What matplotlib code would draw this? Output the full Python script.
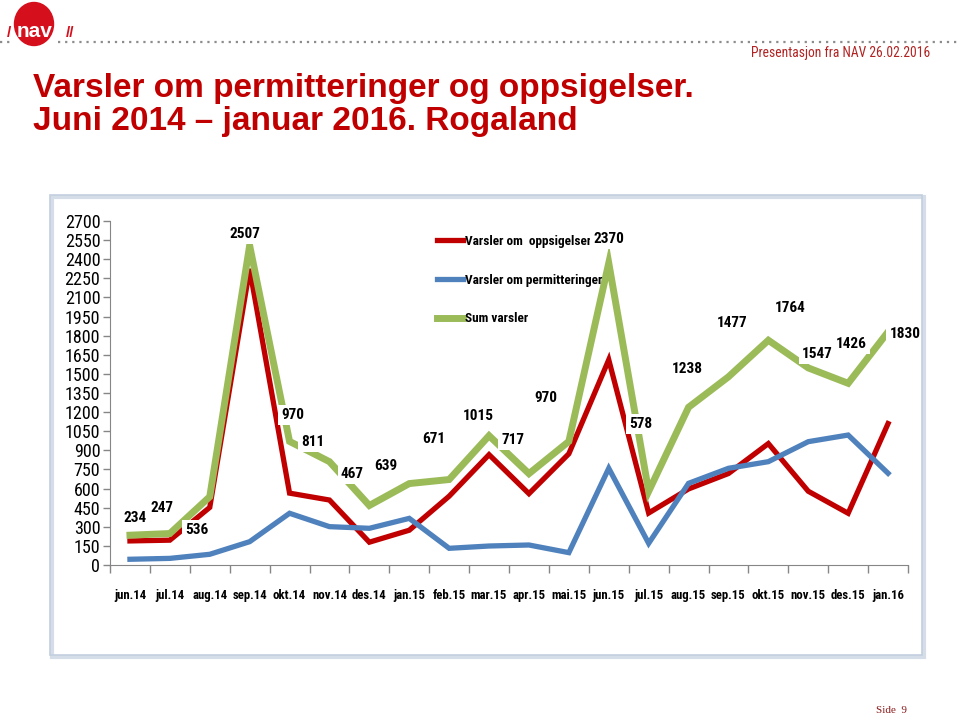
import numpy as np
import matplotlib
matplotlib.use("Agg")
import matplotlib.pyplot as plt
from matplotlib import font_manager
from matplotlib.font_manager import FontProperties
from matplotlib.patches import Ellipse, Rectangle
from matplotlib.lines import Line2D

# data
months = ["jun.14", "jul.14", "aug.14", "sep.14", "okt.14", "nov.14", "des.14",
          "jan.15", "feb.15", "mar.15", "apr.15", "mai.15", "jun.15", "jul.15",
          "aug.15", "sep.15", "okt.15", "nov.15", "des.15", "jan.16"]
oppsigelser = [189, 195, 452, 2324, 564, 510, 179, 273, 540, 866,
               560, 873, 1611, 408, 597, 718, 953, 579, 406, 1110]
permitteringer = [45, 52, 84, 183, 406, 301, 288, 366, 131, 149,
                  157, 97, 759, 170, 641, 759, 811, 968, 1020, 720]
sum_varsler = [234, 247, 536, 2507, 970, 811, 467, 639, 671, 1015,
               717, 970, 2370, 578, 1238, 1477, 1764, 1547, 1426, 1830]
yticks = list(range(0, 2701, 150))

# label offsets in pixels (dx, dy) relative to the green points
label_offsets = [(5, 17), (-8, 26), (-13, -33), (-5, 12), (3, 26), (-17, 20),
                 (-17, 32), (-23, 18), (-15, 41), (-11, 20), (-16, 34), (-23, 43),
                 (0, 24), (-8, 67), (-1, 38), (4, 54), (22, 32), (9, 14),
                 (3, 39), (17, -2)]

RED = "#C00000"
BLUE = "#4F81BD"
GREEN = "#9BBB59"
TITLE_RED = "#C00000"


# find a narrow font (Calibri-like chart text)
def find_narrow(bold):
    fonts = font_manager.fontManager.ttflist
    def ok_weight(f):
        w = f.weight if isinstance(f.weight, int) else 400
        return (w >= 600) if bold else (w < 600)
    for name in ["Liberation Sans Narrow", "Roboto Condensed", "Open Sans Condensed"]:
        for f in fonts:
            if f.name == name and ok_weight(f) and "italic" not in f.style:
                return f.fname, True
    for name in ["Noto Sans", "Open Sans", "DejaVu Sans", "Roboto"]:
        for f in fonts:
            if (f.name == name and "condensed" in str(f.stretch) and
                    ok_weight(f) and f.style == "normal"):
                return f.fname, True
    for f in fonts:
        if f.name == "Liberation Sans" and ok_weight(f) and f.style == "normal":
            return f.fname, False
    return None, False

reg_path, reg_narrow = find_narrow(False)
bold_path, bold_narrow = find_narrow(True)
k_reg = 1.0 if reg_narrow else 0.85
k_bold = 1.0 if bold_narrow else 0.85

def nfont(size, bold=False):
    path = bold_path if bold else reg_path
    k = k_bold if bold else k_reg
    if path is None:
        return FontProperties(family="DejaVu Sans", size=size * 0.8,
                              weight="bold" if bold else "normal")
    return FontProperties(fname=path, size=size * k)

W, H = 960, 717
fig = plt.figure(figsize=(W / 100, H / 100), dpi=100)

def fx(x):
    return x / W

def fy(y):
    return 1 - y / H

# header: logo, dotted line, date text
fig.add_artist(Line2D([fx(0), fx(12)], [fy(42), fy(42)], color="#8C8C8C",
                      lw=1.6, linestyle=(0, (1, 2.2))))
fig.add_artist(Line2D([fx(58), fx(960)], [fy(42), fy(42)], color="#8C8C8C",
                      lw=1.6, linestyle=(0, (1, 2.2))))
fig.add_artist(Ellipse((fx(34), fy(24)), 39 / W, 43 / H, color="#D50F1C"))
fig.text(fx(35), fy(37), "nav", color="white", fontsize=15, fontweight="bold",
         ha="center", va="baseline", family="Liberation Sans")
fig.text(fx(9), fy(37), "/", color="#D50F1C", fontsize=11, fontweight="bold",
         ha="center", va="baseline", family="Liberation Sans")
fig.text(fx(70), fy(37), "//", color="#D50F1C", fontsize=11, fontweight="bold",
         ha="center", va="baseline", family="Liberation Sans")
fig.text(fx(930), fy(57), "Presentasjon fra NAV 26.02.2016", color="#B22222",
         fontproperties=nfont(9.8), ha="right", va="baseline")

# title
fig.text(fx(33), fy(97), "Varsler om permitteringer og oppsigelser.", color=TITLE_RED,
         fontsize=24, fontweight="bold", ha="left", va="baseline",
         family="Liberation Sans")
fig.text(fx(33), fy(130), "Juni 2014 \u2013 januar 2016. Rogaland", color=TITLE_RED,
         fontsize=24, fontweight="bold", ha="left", va="baseline",
         family="Liberation Sans")

# footer
fig.text(fx(876), fy(713), "Side  9", color="#8B1A1A", fontsize=8,
         ha="left", va="baseline", family="Liberation Serif")

# chart frame
fig.add_artist(Rectangle((fx(52), fy(657)), 872 / W, 460 / H, fill=False,
                         edgecolor="#D5DDE8", lw=3))
fig.add_artist(Rectangle((fx(50), fy(655)), 872 / W, 460 / H, fill=False,
                         edgecolor="#C3CFDF", lw=1.2))

# chart
ax = fig.add_axes([fx(110), fy(565), 798 / W, 344 / H])
x = np.arange(len(months))
ax.plot(x, oppsigelser, color=RED, lw=3.8, solid_joinstyle="miter",
        label="Varsler om  oppsigelser", zorder=3)
ax.plot(x, permitteringer, color=BLUE, lw=3.8, solid_joinstyle="miter",
        label="Varsler om permitteringer", zorder=3)
ax.plot(x, sum_varsler, color=GREEN, lw=5, solid_joinstyle="miter",
        label="Sum varsler", zorder=4)

for xi, v, (dx, dy) in zip(x, sum_varsler, label_offsets):
    ax.annotate(str(v), (xi, v), xytext=(dx, dy), textcoords="offset pixels",
                ha="center", va="center", fontproperties=nfont(11, True), zorder=6,
                bbox=dict(boxstyle="square,pad=0.2", fc="white", ec="none"))

ax.set_xlim(-0.5, len(months) - 0.5)
ax.set_ylim(0, 2700)
ax.set_yticks(yticks)
ax.set_yticklabels([str(t) for t in yticks], fontproperties=nfont(13))
ax.set_xticks(x)
ax.set_xticklabels(months, fontproperties=nfont(9.2, True))
ax.set_xticks(np.arange(-0.5, len(months)), minor=True)
ax.tick_params(axis="x", which="major", length=0, pad=17)
ax.tick_params(axis="x", which="minor", length=6, color="#868686", width=1)
ax.tick_params(axis="y", length=5, color="#868686", width=1, pad=2)
for s in ["top", "right"]:
    ax.spines[s].set_visible(False)
for s in ["left", "bottom"]:
    ax.spines[s].set_color("#868686")

leg = ax.legend(loc="upper left", bbox_to_anchor=(fx(437), fy(235)),
                bbox_transform=fig.transFigure, frameon=False, borderpad=0,
                borderaxespad=0, handlelength=2.0, handletextpad=0.1,
                labelspacing=1.95, prop=nfont(9.5, True))

fig.savefig("out.png", dpi=100)
